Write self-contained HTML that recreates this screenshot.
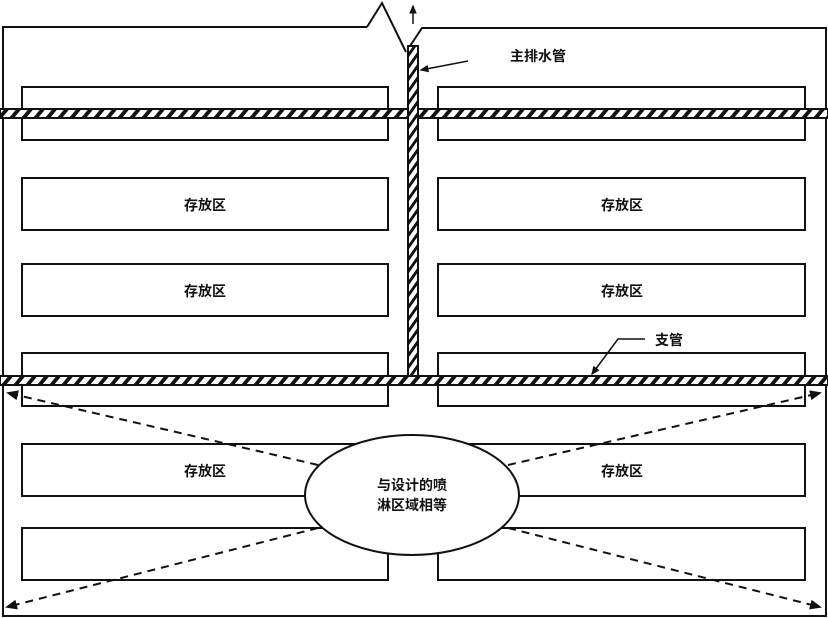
<!DOCTYPE html>
<html><head><meta charset="utf-8"><style>
html,body{margin:0;padding:0;background:#fff}
svg{display:block}
text{font-family:"Liberation Sans","Noto Sans CJK SC",sans-serif;font-weight:bold;font-size:14px;fill:#111}
</style></head><body>
<svg width="828" height="618" viewBox="0 0 828 618" xmlns="http://www.w3.org/2000/svg">
<defs>
<pattern id="h" width="12" height="10" patternUnits="userSpaceOnUse" patternTransform="skewX(-40)">
<rect width="12" height="10" fill="#fff"/><rect width="5" height="10" fill="#111"/>
</pattern>
<pattern id="hv" width="10" height="12" patternUnits="userSpaceOnUse" patternTransform="skewY(-55)">
<rect width="10" height="12" fill="#fff"/><rect width="10" height="5" fill="#111"/>
</pattern>
<marker id="a" markerWidth="7" markerHeight="7" refX="5" refY="3.5" orient="auto"><path d="M0,1 L6,3.5 L0,6 z" fill="#111"/></marker>
</defs>
<g fill="none" stroke="#111" stroke-width="2">
<polyline points="367,27 3,27 3,616 826,616 826,28 422,28 410,46"/>
<polyline points="367,27 382,3 406,52"/>
<rect x="22" y="87" width="366" height="53"/>
<rect x="22" y="178" width="366" height="52"/>
<rect x="22" y="264" width="366" height="52"/>
<rect x="22" y="353" width="366" height="53"/>
<rect x="22" y="444" width="366" height="52"/>
<rect x="22" y="528" width="366" height="52"/>
<rect x="438" y="87" width="367" height="53"/>
<rect x="438" y="178" width="367" height="52"/>
<rect x="438" y="264" width="367" height="52"/>
<rect x="438" y="353" width="367" height="53"/>
<rect x="438" y="444" width="367" height="52"/>
<rect x="438" y="528" width="367" height="52"/>
</g>
<rect x="0" y="109" width="828" height="9" fill="url(#h)" stroke="#111" stroke-width="2"/>
<rect x="0" y="376" width="828" height="9" fill="url(#h)" stroke="#111" stroke-width="2"/>
<rect x="408" y="46" width="10" height="330" fill="url(#hv)" stroke="#111" stroke-width="2"/>
<line x1="413" y1="24" x2="413" y2="6" stroke="#111" stroke-width="1.5" marker-end="url(#a)"/>
<line x1="468" y1="61" x2="421" y2="70" stroke="#111" stroke-width="1.5" marker-end="url(#a)"/>
<polyline points="645,339 618,339 592,374" fill="none" stroke="#111" stroke-width="1.5" marker-end="url(#a)"/>
<g stroke="#111" stroke-width="2" stroke-dasharray="8,6">
<line x1="318" y1="465" x2="8" y2="393" marker-end="url(#a)"/>
<line x1="508" y1="465" x2="820" y2="393" marker-end="url(#a)"/>
<line x1="318" y1="528" x2="7" y2="607" marker-end="url(#a)"/>
<line x1="508" y1="528" x2="820" y2="607" marker-end="url(#a)"/>
</g>
<ellipse cx="412" cy="495" rx="107" ry="60" fill="#fff" stroke="#111" stroke-width="2"/>
<text x="205" y="210" text-anchor="middle">存放区</text>
<text x="205" y="296" text-anchor="middle">存放区</text>
<text x="205" y="476" text-anchor="middle">存放区</text>
<text x="622" y="210" text-anchor="middle">存放区</text>
<text x="622" y="296" text-anchor="middle">存放区</text>
<text x="622" y="476" text-anchor="middle">存放区</text>
<text x="412" y="490" text-anchor="middle">与设计的喷</text>
<text x="412" y="510" text-anchor="middle">淋区域相等</text>
<text x="510" y="61">主排水管</text>
<text x="655" y="345">支管</text>
</svg>
</body></html>
